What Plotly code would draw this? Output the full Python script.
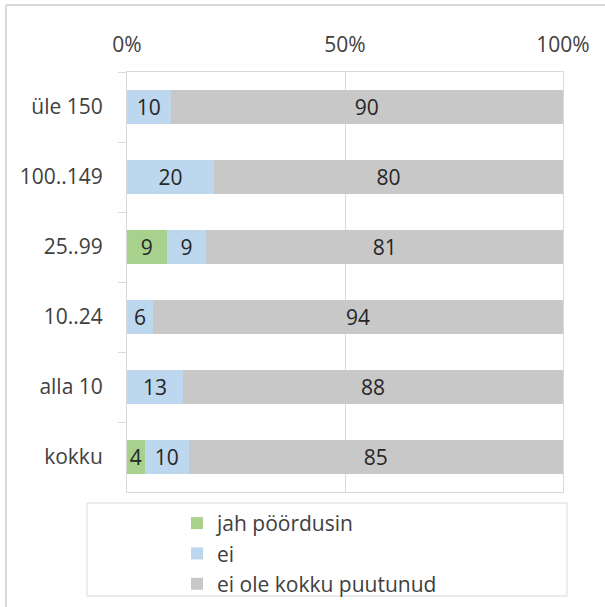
import plotly.graph_objects as go

categories = ["üle 150", "100..149", "25..99", "10..24", "alla 10", "kokku"]
series_names = ["jah pöördusin", "ei", "ei ole kokku puutunud"]
jah = [None, None, 9, None, None, 4]
ei = [10, 20, 9, 6, 13, 10]
ei_ole = [90, 80, 81, 94, 88, 85]
x_ticks = [0, 50, 100]
x_tick_labels = ["0%", "50%", "100%"]

colors = ["#a9d18e", "#bdd7ee", "#c8c8c8"]
FONT = "Open Sans"
TXT = "#404040"

W, H = 605, 607
L, R, T, B = 127, 42, 72, 115
PW, PH = W - L - R, H - T - B


def px(x):
    return (x - L) / PW


def py(y):
    return (H - B - y) / PH


fig = go.Figure()
for name, vals, col in zip(series_names, [jah, ei, ei_ole], colors):
    fig.add_trace(go.Bar(
        y=categories, x=[v if v is not None else 0 for v in vals],
        orientation="h", name=name,
        marker=dict(color=col, line=dict(width=0)),
        text=[str(v) if v else "" for v in vals],
        texttemplate="%{text}", textangle=0,
        textposition="inside", insidetextanchor="middle",
        insidetextfont=dict(family=FONT, size=21, color="#262626"),
        constraintext="none",
        hoverinfo="skip",
    ))

fig.update_layout(
    width=W, height=H, autosize=False,
    margin=dict(l=L, r=R, t=T, b=B, pad=0, autoexpand=False),
    barmode="stack", barnorm="percent", bargap=0.52,
    paper_bgcolor="white", plot_bgcolor="white",
    font=dict(family=FONT, size=21, color=TXT),
    uniformtext=dict(minsize=21, mode="show"),
    legend=dict(
        xref="container", yref="container",
        x=177 / W, y=1 - 503 / H, xanchor="left", yanchor="top",
        orientation="v", traceorder="normal",
        font=dict(family=FONT, size=21, color=TXT),
        bgcolor="rgba(0,0,0,0)", itemwidth=30, tracegroupgap=0,
    ),
    xaxis=dict(
        side="top", range=[0, 100], tickvals=x_ticks, ticktext=x_tick_labels,
        showgrid=True, gridcolor="#d9d9d9", gridwidth=1,
        showline=True, linecolor="#d9d9d9", mirror=True,
        zeroline=False, ticks="", ticklabelstandoff=11,
        tickfont=dict(family=FONT, size=21, color=TXT), fixedrange=True,
    ),
    yaxis=dict(
        categoryorder="array", categoryarray=categories, autorange="reversed",
        showgrid=False, showline=True, linecolor="#d9d9d9", mirror=True,
        ticks="outside", tickson="boundaries", ticklen=8, tickcolor="#d9d9d9",
        ticklabelstandoff=19,
        tickfont=dict(family=FONT, size=21, color=TXT), fixedrange=True,
    ),
    shapes=[
        dict(type="line", xref="paper", yref="paper", x0=px(6), x1=px(605),
             y0=py(5), y1=py(5), line=dict(color="#d9d9d9", width=2)),
        dict(type="line", xref="paper", yref="paper", x0=px(6), x1=px(6),
             y0=py(5), y1=py(607), line=dict(color="#d9d9d9", width=2)),
        dict(type="rect", xref="paper", yref="paper", x0=px(87), x1=px(567),
             y0=py(503), y1=py(596), line=dict(color="#d9d9d9", width=1)),
    ],
)

fig.write_html(
    "out.html",
    config={"displayModeBar": False},
    post_script="document.body.style.margin='0';document.body.style.padding='0';",
)
